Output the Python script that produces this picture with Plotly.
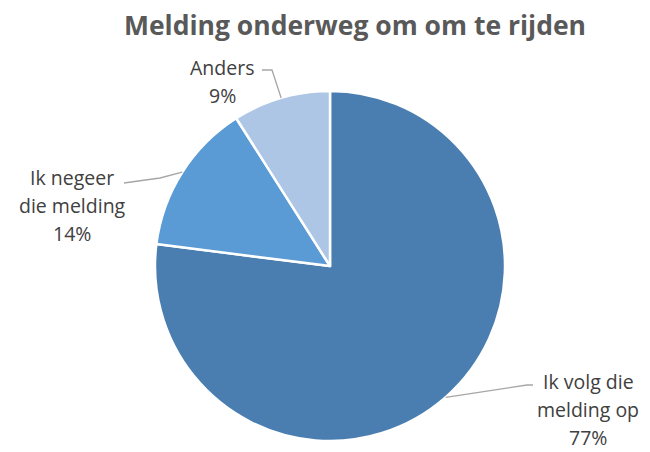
import math
import plotly.graph_objects as go

labels = ["Ik volg die melding op", "Ik negeer die melding", "Anders"]
label_lines = [["Ik volg die", "melding op"], ["Ik negeer", "die melding"], ["Anders"]]
values = [77, 14, 9]
colors = ["#4A7EB0", "#5B9BD5", "#ADC6E6"]
title_text = "Melding onderweg om om te rijden"

OFF = 8  # page body margin of the browser
W, H = 650 - OFF, 452 - OFF
cx, cy, R = 330, 266, 175


def px(x):
    return (x - OFF) / W


def py(y):
    return 1 - (y - OFF) / H


fig = go.Figure(go.Pie(
    labels=labels, values=values, sort=False, direction="clockwise", rotation=0,
    marker=dict(colors=colors, line=dict(color="white", width=2.5)),
    textinfo="none", hoverinfo="label+percent", showlegend=False,
    domain=dict(x=[px(cx - R), px(cx + R)], y=[py(cy + R), py(cy - R)]),
))

# label first-line centers (reference pixels) and leader elbow/end points
label_pos = [(588, 381), (72, 177), (222, 68)]
line_gap = 28
elbows = [[(527, 385), (533, 385)], [(160, 178), (124, 183)], [(272, 70), (262, 70)]]

total = sum(values)
cum = 0
shapes = []
annotations = []
for i, v in enumerate(values):
    mid = (cum + v / 2) / total * 2 * math.pi
    cum += v
    ex = cx + R * math.sin(mid)
    ey = cy - R * math.cos(mid)
    pts = [(ex, ey)] + elbows[i]
    path = "M " + " L ".join(f"{px(x)},{py(y)}" for x, y in pts)
    shapes.append(dict(type="path", xref="paper", yref="paper", path=path,
                       line=dict(color="#A6A6A6", width=1.3)))
    pct = round(v / total * 100)
    lx, ly = label_pos[i]
    for j, t in enumerate(label_lines[i] + [f"{pct}%"]):
        annotations.append(dict(
            x=px(lx), y=py(ly + j * line_gap), xref="paper", yref="paper", showarrow=False,
            text=t, align="center", borderpad=0,
            font=dict(family="Open Sans", size=19.5, color="#404040"),
            xanchor="center", yanchor="middle",
        ))

fig.update_layout(
    width=W, height=H, margin=dict(l=0, r=0, t=0, b=0),
    paper_bgcolor="white", plot_bgcolor="white",
    title=dict(text=f"<b>{title_text}</b>", x=px(355), xanchor="center",
               y=py(26), yanchor="middle",
               font=dict(family="Open Sans", size=26.5, color="#595959")),
    shapes=shapes, annotations=annotations,
)

fig.write_html("out.html")
